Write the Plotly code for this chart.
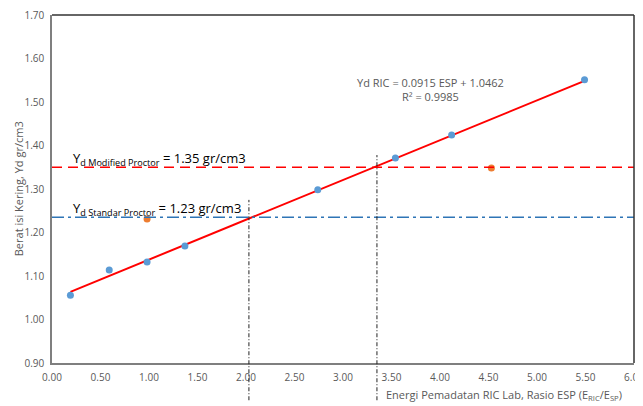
import plotly.graph_objects as go

# data
esp_blue = [0.19, 0.59, 0.98, 1.37, 2.74, 3.54, 4.12, 5.49]
yd_blue = [1.056, 1.114, 1.132, 1.169, 1.298, 1.371, 1.424, 1.551]
esp_orange = [0.98, 4.53]
yd_orange = [1.231, 1.348]
slope = 0.0915
intercept = 1.0462
trend_x = [0.19, 5.49]
yd_modified = 1.35
yd_standar = 1.235
esp_cross = [2.03, 3.35]
cross_top = [1.275, 1.378]
x_range = [0, 6]
y_range = [0.9, 1.7]

trend_y = [slope * v + intercept for v in trend_x]

fig = go.Figure()
fig.add_trace(go.Scatter(x=trend_x, y=trend_y, mode="lines",
                         line=dict(color="#ff0000", width=2), showlegend=False))
fig.add_trace(go.Scatter(x=esp_blue, y=yd_blue, mode="markers",
                         marker=dict(color="#5b9bd5", size=7), showlegend=False))
fig.add_trace(go.Scatter(x=esp_orange, y=yd_orange, mode="markers",
                         marker=dict(color="#ed7d31", size=7), showlegend=False))

shapes = []
shapes.append(dict(type="line", xref="paper", yref="y", x0=0, x1=1, y0=yd_modified, y1=yd_modified,
                   line=dict(color="#ff0000", width=1.5, dash="10px,6px")))
shapes.append(dict(type="line", xref="paper", yref="y", x0=0, x1=1, y0=yd_standar, y1=yd_standar,
                   line=dict(color="#2e75b6", width=1.5, dash="12px,4px,3px,4px")))
for xv, yt in zip(esp_cross, cross_top):
    xp = (xv - x_range[0]) / (x_range[1] - x_range[0])
    yp = (yt - y_range[0]) / (y_range[1] - y_range[0])
    shapes.append(dict(type="line", xref="paper", yref="paper", x0=xp, x1=xp, y0=-0.107, y1=yp,
                       line=dict(color="#222222", width=1, dash="4px,2px,1px,2px")))
# frame
shapes.append(dict(type="line", xref="paper", yref="paper", x0=0, x1=1, y0=1, y1=1,
                   line=dict(color="#333333", width=1.5)))
shapes.append(dict(type="line", xref="paper", yref="paper", x0=1, x1=1, y0=0, y1=1,
                   line=dict(color="#333333", width=1.5)))

font_fam = "Open Sans, Calibri, sans-serif"
annotations = [
    dict(x=0.2, y=1.37, xref="x", yref="y", xanchor="left", yanchor="middle", showarrow=False,
         text="Υ<sub>d Modified Proctor</sub> = 1.35 gr/cm3",
         font=dict(family=font_fam, size=13, color="#000000")),
    dict(x=0.2, y=1.255, xref="x", yref="y", xanchor="left", yanchor="middle", showarrow=False,
         text="Υ<sub>d Standar Proctor</sub> = 1.23 gr/cm3",
         font=dict(family=font_fam, size=13, color="#000000")),
    dict(x=3.9, y=1.528, xref="x", yref="y", xanchor="center", yanchor="middle", showarrow=False,
         text="Yd RIC = 0.0915 ESP + 1.0462<br>R² = 0.9985",
         font=dict(family=font_fam, size=11, color="#595959")),
    dict(x=0.982, y=-0.093, xref="paper", yref="paper", xanchor="right", yanchor="middle", showarrow=False,
         text="Energi Pemadatan RIC Lab, Rasio ESP (E<sub>RIC</sub>/E<sub>SP</sub>)",
         font=dict(family=font_fam, size=11, color="#595959")),
    dict(x=-0.058, y=0.5, xref="paper", yref="paper", xanchor="center", yanchor="middle", showarrow=False,
         textangle=-90, text="Berat isi Kering, Yd gr/cm3",
         font=dict(family=font_fam, size=11, color="#595959")),
]

# page body has an 8px default margin, so the figure is sized/offset to compensate
fig.update_layout(
    width=635, height=398,
    margin=dict(l=44, r=9, t=7, b=43),
    paper_bgcolor="white", plot_bgcolor="white",
    shapes=shapes, annotations=annotations,
    font=dict(family=font_fam, color="#595959", size=10),
    xaxis=dict(range=x_range, dtick=0.5, tickformat=".2f", showgrid=False, zeroline=False,
               showline=True, linecolor="#7f7f7f", linewidth=1.5, automargin=False,
               ticks="outside", ticklen=4, tickcolor="rgba(0,0,0,0)", ticklabeloverflow="allow",
               tickfont=dict(size=10, color="#595959")),
    yaxis=dict(range=y_range, dtick=0.1, tickformat=".2f", showgrid=False, zeroline=False,
               showline=True, linecolor="#7f7f7f", linewidth=1.5, automargin=False,
               ticks="outside", ticklen=4, tickcolor="rgba(0,0,0,0)", ticklabeloverflow="allow",
               tickfont=dict(size=10, color="#595959")),
)

fig.write_html("out.html")
